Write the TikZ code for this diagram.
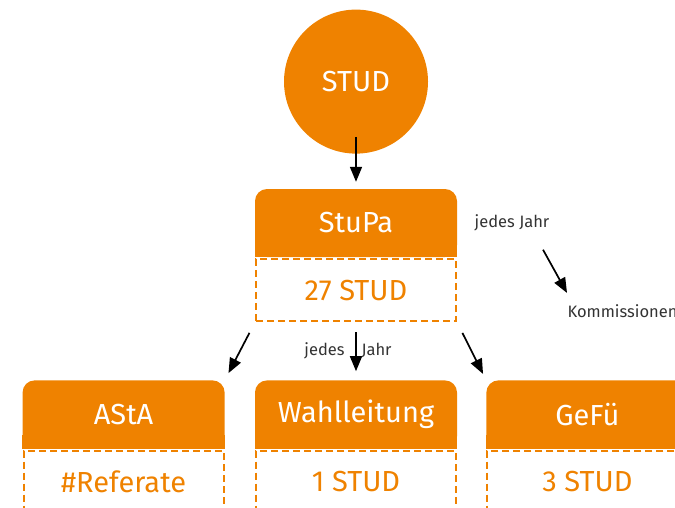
\documentclass[tikz,border=0pt]{standalone}
\usepackage{fontspec}
\setmainfont{Fira Sans}
\usetikzlibrary{arrows.meta}
\usetikzlibrary{positioning}

\definecolor{stuorange}{HTML}{EF8200}
\definecolor{labelgray}{HTML}{333333}

\begin{document}
\begin{tikzpicture}[x=1pt, y=-1pt,
  big/.style={font=\fontsize{29}{34}\selectfont},
  small/.style={font=\fontsize{16.5}{20}\selectfont, text=labelgray},
  head/.style={big, text=white, fill=stuorange, rounded corners=12pt, minimum width=202pt, minimum height=68pt, inner sep=0pt},
  body/.style={big, text=stuorange, draw=stuorange, dash pattern=on 7pt off 4pt, line width=2pt, minimum width=200pt, minimum height=62pt, inner sep=0pt},
  arr/.style={-{Triangle[length=15pt, width=12pt]}, line width=1.7pt}]
\useasboundingbox (0,0) rectangle (675,507);

\node[head] (stupa) at (356,223) {StuPa};
\node[body, below=1pt of stupa] (stupabody) {27 STUD};
\node[circle, fill=stuorange, text=white, big, minimum size=144pt, above=35pt of stupa] (stud) {STUD};

\node[head, below=58pt of stupabody] (wahl) {Wahlleitung};
\node[body, below=1pt of wahl] (wahlbody) {1 STUD};
\node[head, left=30pt of wahl] (asta) {AStA};
\node[body, below=1pt of asta] (astabody) {\#Referate};
\node[head, right=29pt of wahl] (gefu) {GeFü};
\node[body, below=1pt of gefu] (gefubody) {3 STUD};

% square off the lower corners of the headers
\foreach \h in {stupa, wahl, asta, gefu}
  \fill[stuorange] (\h.south west) rectangle ([yshift=14pt]\h.south east);

\node[small, right=14pt of stupa] (jahr) {jedes Jahr};
\node[small, anchor=west] (komm) at (564,311) {Kommissionen};

\draw[arr, shorten <=-17pt, shorten >=7pt] (stud) -- (stupa);
\draw[arr, shorten <=12pt, shorten >=8pt] (stupabody.south west) -- (asta.north east);
\draw[arr, shorten <=10pt, shorten >=9pt] (stupabody) -- (wahl)
  node[small, midway, xshift=-8pt] (wahljahr) {jedes\hspace{17pt}Jahr};
\draw[arr, shorten <=12pt, shorten >=7pt] (stupabody.south east) -- (gefu.north west);
\draw[arr] ([xshift=31pt, yshift=-15pt]jahr.south) -- ([xshift=3pt, yshift=8pt]komm.north west);
\end{tikzpicture}
\end{document}
